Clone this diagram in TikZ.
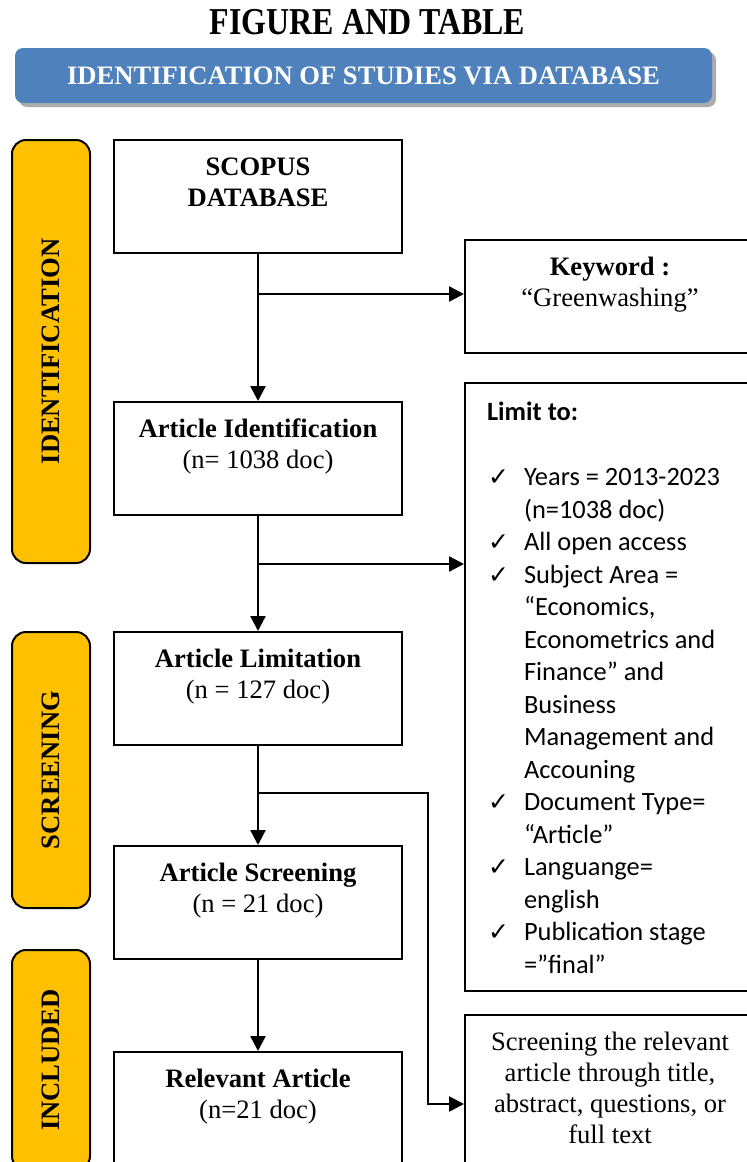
\documentclass[tikz,border=0pt]{standalone}
\usepackage{fontspec}
\setmainfont{Liberation Serif}
\newfontfamily\calfont{Carlito}
\newfontfamily\symfont{DejaVu Sans}
\usepackage{graphicx}
\usetikzlibrary{arrows.meta,shadows}
\definecolor{stageorange}{HTML}{FFC000}
\definecolor{bannerblue}{HTML}{4F81BD}
\newcommand{\boxcontent}[3]{\begin{minipage}[c][#1][t]{#2}\centering\fontsize{13.3pt}{15.5pt}\selectfont\vspace*{7.1pt}\strut #3\end{minipage}}
\newcommand{\chk}{\makebox[29.5pt][l]{\hspace*{11.5pt}{\symfont\fontsize{12.5pt}{12.5pt}\selectfont ✓}}}
\newcommand{\chkitem}[1]{\noindent\hangindent=29.5pt\hangafter=1 \chk #1\par}
\begin{document}
\begin{tikzpicture}[x=0.5pt,y=-0.5pt,
  mainbox/.style={draw, line width=1pt, inner sep=0pt, fill=white},
  conn/.style={line width=1.25pt},
  arr/.style={conn, -{Triangle[length=7.5pt,width=7.5pt]}},
  stage/.style={draw, line width=1pt, fill=stageorange, rounded corners=7pt, rotate=90, inner sep=0pt, minimum height=39pt, font=\fontsize{13.3pt}{15pt}\selectfont\bfseries},
  banner/.style={fill=bannerblue, rounded corners=4pt, minimum width=348.5pt, minimum height=27.5pt, inner sep=0pt, text=white, font=\fontsize{13.3pt}{15pt}\selectfont\bfseries, drop shadow={shadow xshift=2pt, shadow yshift=-2pt, fill=gray!65, opacity=1}}
]
\path[use as bounding box] (0,0) rectangle (747,1162);
\clip (0,0) rectangle (747,1162);

% title and banner
\node (title) at (367.5,22) {\fontsize{19pt}{22pt}\selectfont\bfseries\scalebox{0.84}[1]{FIGURE AND TABLE}};
\node[banner] (banner) at (363.5,75.5) {IDENTIFICATION OF STUDIES VIA DATABASE};

% stage bars
\node[stage, minimum width=211.5pt] (sid) at (51,351.5) {IDENTIFICATION};
\node[stage, minimum width=138pt] (ssc) at (51,770) {SCREENING};
\node[stage, minimum width=110pt] (sin) at (51,1060) {INCLUDED};

% main column
\node[mainbox] (scopus) at (258,196.5) {\boxcontent{56.5pt}{144pt}{\textbf{SCOPUS}\\\textbf{DATABASE}}};
\node[mainbox] (ai) at (258,458.5) {\boxcontent{56.5pt}{144pt}{\textbf{Article Identification}\\(n= 1038 doc)}};
\node[mainbox] (al) at (258,688.5) {\boxcontent{56.5pt}{144pt}{\textbf{Article Limitation}\\(n = 127 doc)}};
\node[mainbox] (as) at (258,902.5) {\boxcontent{56.5pt}{144pt}{\textbf{Article Screening}\\(n = 21 doc)}};
\node[mainbox] (ra) at (258,1116) {\boxcontent{64pt}{144pt}{\textbf{Relevant Article}\\(n=21 doc)}};

% right column
\node[mainbox] (keyword) at (610,296.5) {\boxcontent{56.5pt}{145pt}{\textbf{Keyword :}\\“Greenwashing”}};
\node[mainbox] (limit) at (610,687) {\begin{minipage}[c][304pt][t]{145pt}\raggedright\parindent=0pt\calfont\fontsize{13.2pt}{16.25pt}\selectfont
\vspace*{7.6pt}\strut\hspace*{11pt}\textbf{Limit to:}\par
\vspace{16.25pt}
\chkitem{Years = 2013-2023\newline (n=1038 doc)}
\chkitem{All open access}
\chkitem{Subject Area =\newline “Economics,\newline Econometrics and\newline Finance” and\newline Business\newline Management and\newline Accouning}
\chkitem{Document Type=\newline “Article”}
\chkitem{Languange=\newline english}
\chkitem{Publication stage\newline =”final”}
\end{minipage}};
\node[mainbox] (scr) at (610,1104) {\boxcontent{89pt}{145pt}{Screening the relevant\\article through title,\\abstract, questions, or\\full text}};

% connectors
\coordinate (y1) at (0,294);
\coordinate (y2) at (0,564);
\coordinate (y3) at (0,793);
\coordinate (b1) at (scopus.south |- y1);
\coordinate (b2) at (ai.south |- y2);
\coordinate (b3) at (al.south |- y3);
\coordinate (c3) at (428,793);

\draw[arr] (scopus.south) -- (ai.north);
\draw[arr] (b1) -- (b1 -| keyword.west);
\draw[arr] (ai.south) -- (al.north);
\draw[arr] (b2) -- (b2 -| limit.west);
\draw[arr] (al.south) -- (as.north);
\draw[arr] (b3) -- (c3) |- (scr.west);
\draw[arr] (as.south) -- (ra.north);
\end{tikzpicture}
\end{document}
